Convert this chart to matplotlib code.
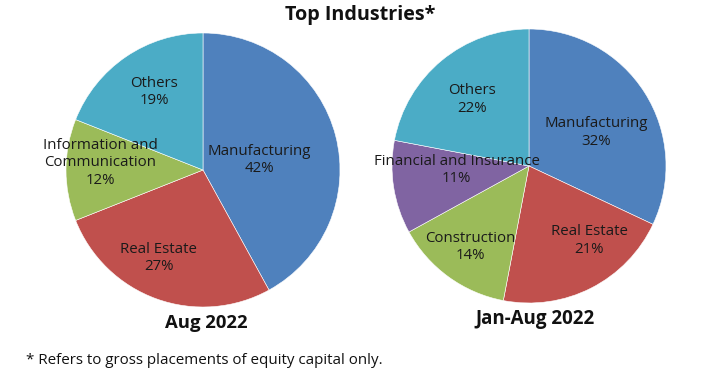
import numpy as np
import matplotlib
matplotlib.use("Agg")
import matplotlib.pyplot as plt

title = "Top Industries*"
footnote = "* Refers to gross placements of equity capital only."

aug_labels = ["Manufacturing", "Real Estate", "Information and\nCommunication", "Others"]
aug_values = [42, 27, 12, 19]
aug_caption = "Aug 2022"

ytd_labels = ["Manufacturing", "Real Estate", "Construction", "Financial and Insurance", "Others"]
ytd_values = [32, 21, 14, 11, 22]
ytd_caption = "Jan-Aug 2022"

colors = {
    "Manufacturing": "#4F81BD",
    "Real Estate": "#C0504D",
    "Information and\nCommunication": "#9BBB59",
    "Construction": "#9BBB59",
    "Financial and Insurance": "#8064A2",
    "Others": "#4BACC6",
}

W, H = 718, 385
fig = plt.figure(figsize=(W / 100, H / 100), dpi=100)
ax = fig.add_axes([0, 0, 1, 1])
ax.set_xlim(0, W)
ax.set_ylim(0, H)
ax.set_aspect("equal")
ax.axis("off")

FONT = "Open Sans"


def draw_pie(labels, values, cx, cy, r, dists, angle_offsets):
    wedges, _ = ax.pie(values, colors=[colors[l] for l in labels], startangle=90,
                       counterclock=False, center=(cx, H - cy), radius=r,
                       wedgeprops=dict(edgecolor="white", linewidth=0.4))
    ax.set_xlim(0, W)
    ax.set_ylim(0, H)
    for w, lab, v, d, ao in zip(wedges, labels, values, dists, angle_offsets):
        mid = np.deg2rad((w.theta1 + w.theta2) / 2 + ao)
        x = cx + d * r * np.cos(mid)
        y = (H - cy) + d * r * np.sin(mid)
        ax.text(x, y, f"{lab}\n{v}%", ha="center", va="center", fontsize=10.8,
                family=FONT, color="#1a1a1a", linespacing=1.2)


draw_pie(aug_labels, aug_values, 203, 170, 137,
         [0.42, 0.72, 0.75, 0.67], [-4, -7, -4, -2])
draw_pie(ytd_labels, ytd_values, 529, 166, 137,
         [0.55, 0.70, 0.73, 0.53, 0.64], [-6, 12, 0, -6, 1])

ax.text(360, H - 15, title, ha="center", va="center", fontsize=14.2,
        fontweight="bold", family=FONT, color="#111111")
ax.text(206, H - 323, aug_caption, ha="center", va="center", fontsize=13.3,
        fontweight="bold", family=FONT, color="#111111")
ax.text(535, H - 319, ytd_caption, ha="center", va="center", fontsize=13.5,
        fontweight="bold", family=FONT, color="#111111")
ax.text(26, H - 361, footnote, ha="left", va="center", fontsize=10.9,
        family=FONT, color="#111111")

fig.savefig("out.png", dpi=100)
